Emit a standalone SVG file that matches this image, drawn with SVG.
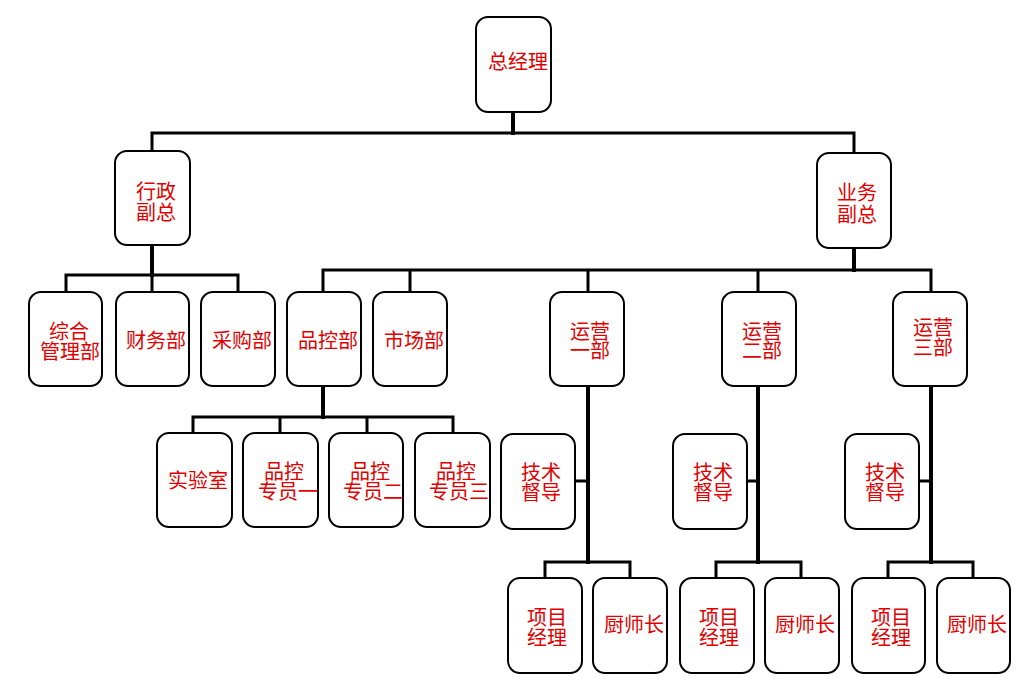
<svg xmlns="http://www.w3.org/2000/svg" width="1024" height="685" viewBox="0 0 1024 685">
<style>
.box{fill:#fff;stroke:#000;stroke-width:2}
.t{font-family:"Noto Sans CJK SC","Liberation Serif",serif;font-size:20px;fill:#e00000;text-anchor:middle}
.c{fill:none;stroke:#000;stroke-width:3;stroke-linecap:square}
.tr{stroke-width:4}
</style>
<rect width="1024" height="685" fill="#fff"/>
<g id="connectors">
<path class="c tr" d="M513,112V133"/>
<path class="c" d="M152,151V133H854V153"/>
<path class="c tr" d="M152,245V275"/>
<path class="c" d="M66,292V275H238V292M152,275V292"/>
<path class="c tr" d="M854,248V270"/>
<path class="c" d="M323,292V270H931V292M410,270V292M588,270V292M758,270V292"/>
<path class="c tr" d="M323,386V417"/>
<path class="c" d="M193,433V417H453V433M280,417V433M367,417V433"/>
<path class="c tr" d="M588,386V562M758,386V562M931,386V562"/>
<path class="c" d="M545,578V562H630V578M716,578V562H801V578M888,578V562H973V578"/>
<path class="c" d="M575,481H588M747,481H758M919,481H931"/>
</g>
<g id="n-zjl"><rect class="box" x="476" y="17" width="75" height="95" rx="12"/><text class="t" x="518" y="69">总经理</text></g>
<g id="n-xzfz"><rect class="box" x="115" y="151" width="75" height="94" rx="12"/><text class="t" x="156" y="199">行政</text><text class="t" x="156" y="220">副总</text></g>
<g id="n-ywfz"><rect class="box" x="817" y="153" width="74" height="95" rx="12"/><text class="t" x="857" y="200">业务</text><text class="t" x="857" y="222">副总</text></g>
<g id="n-zhglb"><rect class="box" x="29" y="292" width="73" height="94" rx="12"/><text class="t" x="69" y="339">综合</text><text class="t" x="70" y="359">管理部</text></g>
<g id="n-cwb"><rect class="box" x="116" y="292" width="73" height="94" rx="12"/><text class="t" x="156" y="348">财务部</text></g>
<g id="n-cgb"><rect class="box" x="201" y="292" width="74" height="94" rx="12"/><text class="t" x="242" y="348">采购部</text></g>
<g id="n-pkb"><rect class="box" x="287" y="292" width="74" height="94" rx="12"/><text class="t" x="328" y="348">品控部</text></g>
<g id="n-scb"><rect class="box" x="373" y="292" width="74" height="94" rx="12"/><text class="t" x="414" y="348">市场部</text></g>
<g id="n-yy1"><rect class="box" x="550" y="292" width="74" height="94" rx="12"/><text class="t" x="590" y="339">运营</text><text class="t" x="590" y="358">一部</text></g>
<g id="n-yy2"><rect class="box" x="722" y="292" width="74" height="94" rx="12"/><text class="t" x="762" y="339">运营</text><text class="t" x="762" y="358">二部</text></g>
<g id="n-yy3"><rect class="box" x="893" y="292" width="74" height="94" rx="12"/><text class="t" x="933" y="335">运营</text><text class="t" x="933" y="355">三部</text></g>
<g id="n-sys"><rect class="box" x="157" y="433" width="75" height="94" rx="12"/><text class="t" x="198" y="488">实验室</text></g>
<g id="n-pk1"><rect class="box" x="243" y="433" width="75" height="94" rx="12"/><text class="t" x="284" y="479">品控</text><text class="t" x="288" y="499">专员一</text></g>
<g id="n-pk2"><rect class="box" x="329" y="433" width="74" height="94" rx="12"/><text class="t" x="370" y="479">品控</text><text class="t" x="373" y="499">专员二</text></g>
<g id="n-pk3"><rect class="box" x="415" y="433" width="75" height="94" rx="12"/><text class="t" x="456" y="479">品控</text><text class="t" x="459" y="499">专员三</text></g>
<g id="n-js1"><rect class="box" x="501" y="434" width="74" height="95" rx="12"/><text class="t" x="541" y="480">技术</text><text class="t" x="541" y="500">督导</text></g>
<g id="n-js2"><rect class="box" x="673" y="434" width="74" height="95" rx="12"/><text class="t" x="713" y="480">技术</text><text class="t" x="713" y="500">督导</text></g>
<g id="n-js3"><rect class="box" x="845" y="434" width="74" height="95" rx="12"/><text class="t" x="885" y="480">技术</text><text class="t" x="885" y="500">督导</text></g>
<g id="n-xm1"><rect class="box" x="508" y="578" width="74" height="95" rx="12"/><text class="t" x="547" y="625">项目</text><text class="t" x="547" y="645">经理</text></g>
<g id="n-cs1"><rect class="box" x="593" y="578" width="74" height="95" rx="12"/><text class="t" x="634" y="632">厨师长</text></g>
<g id="n-xm2"><rect class="box" x="680" y="578" width="74" height="95" rx="12"/><text class="t" x="719" y="625">项目</text><text class="t" x="719" y="645">经理</text></g>
<g id="n-cs2"><rect class="box" x="765" y="578" width="74" height="95" rx="12"/><text class="t" x="805" y="632">厨师长</text></g>
<g id="n-xm3"><rect class="box" x="852" y="578" width="73" height="95" rx="12"/><text class="t" x="891" y="625">项目</text><text class="t" x="891" y="645">经理</text></g>
<g id="n-cs3"><rect class="box" x="937" y="578" width="73" height="95" rx="12"/><text class="t" x="977" y="632">厨师长</text></g>
</svg>
